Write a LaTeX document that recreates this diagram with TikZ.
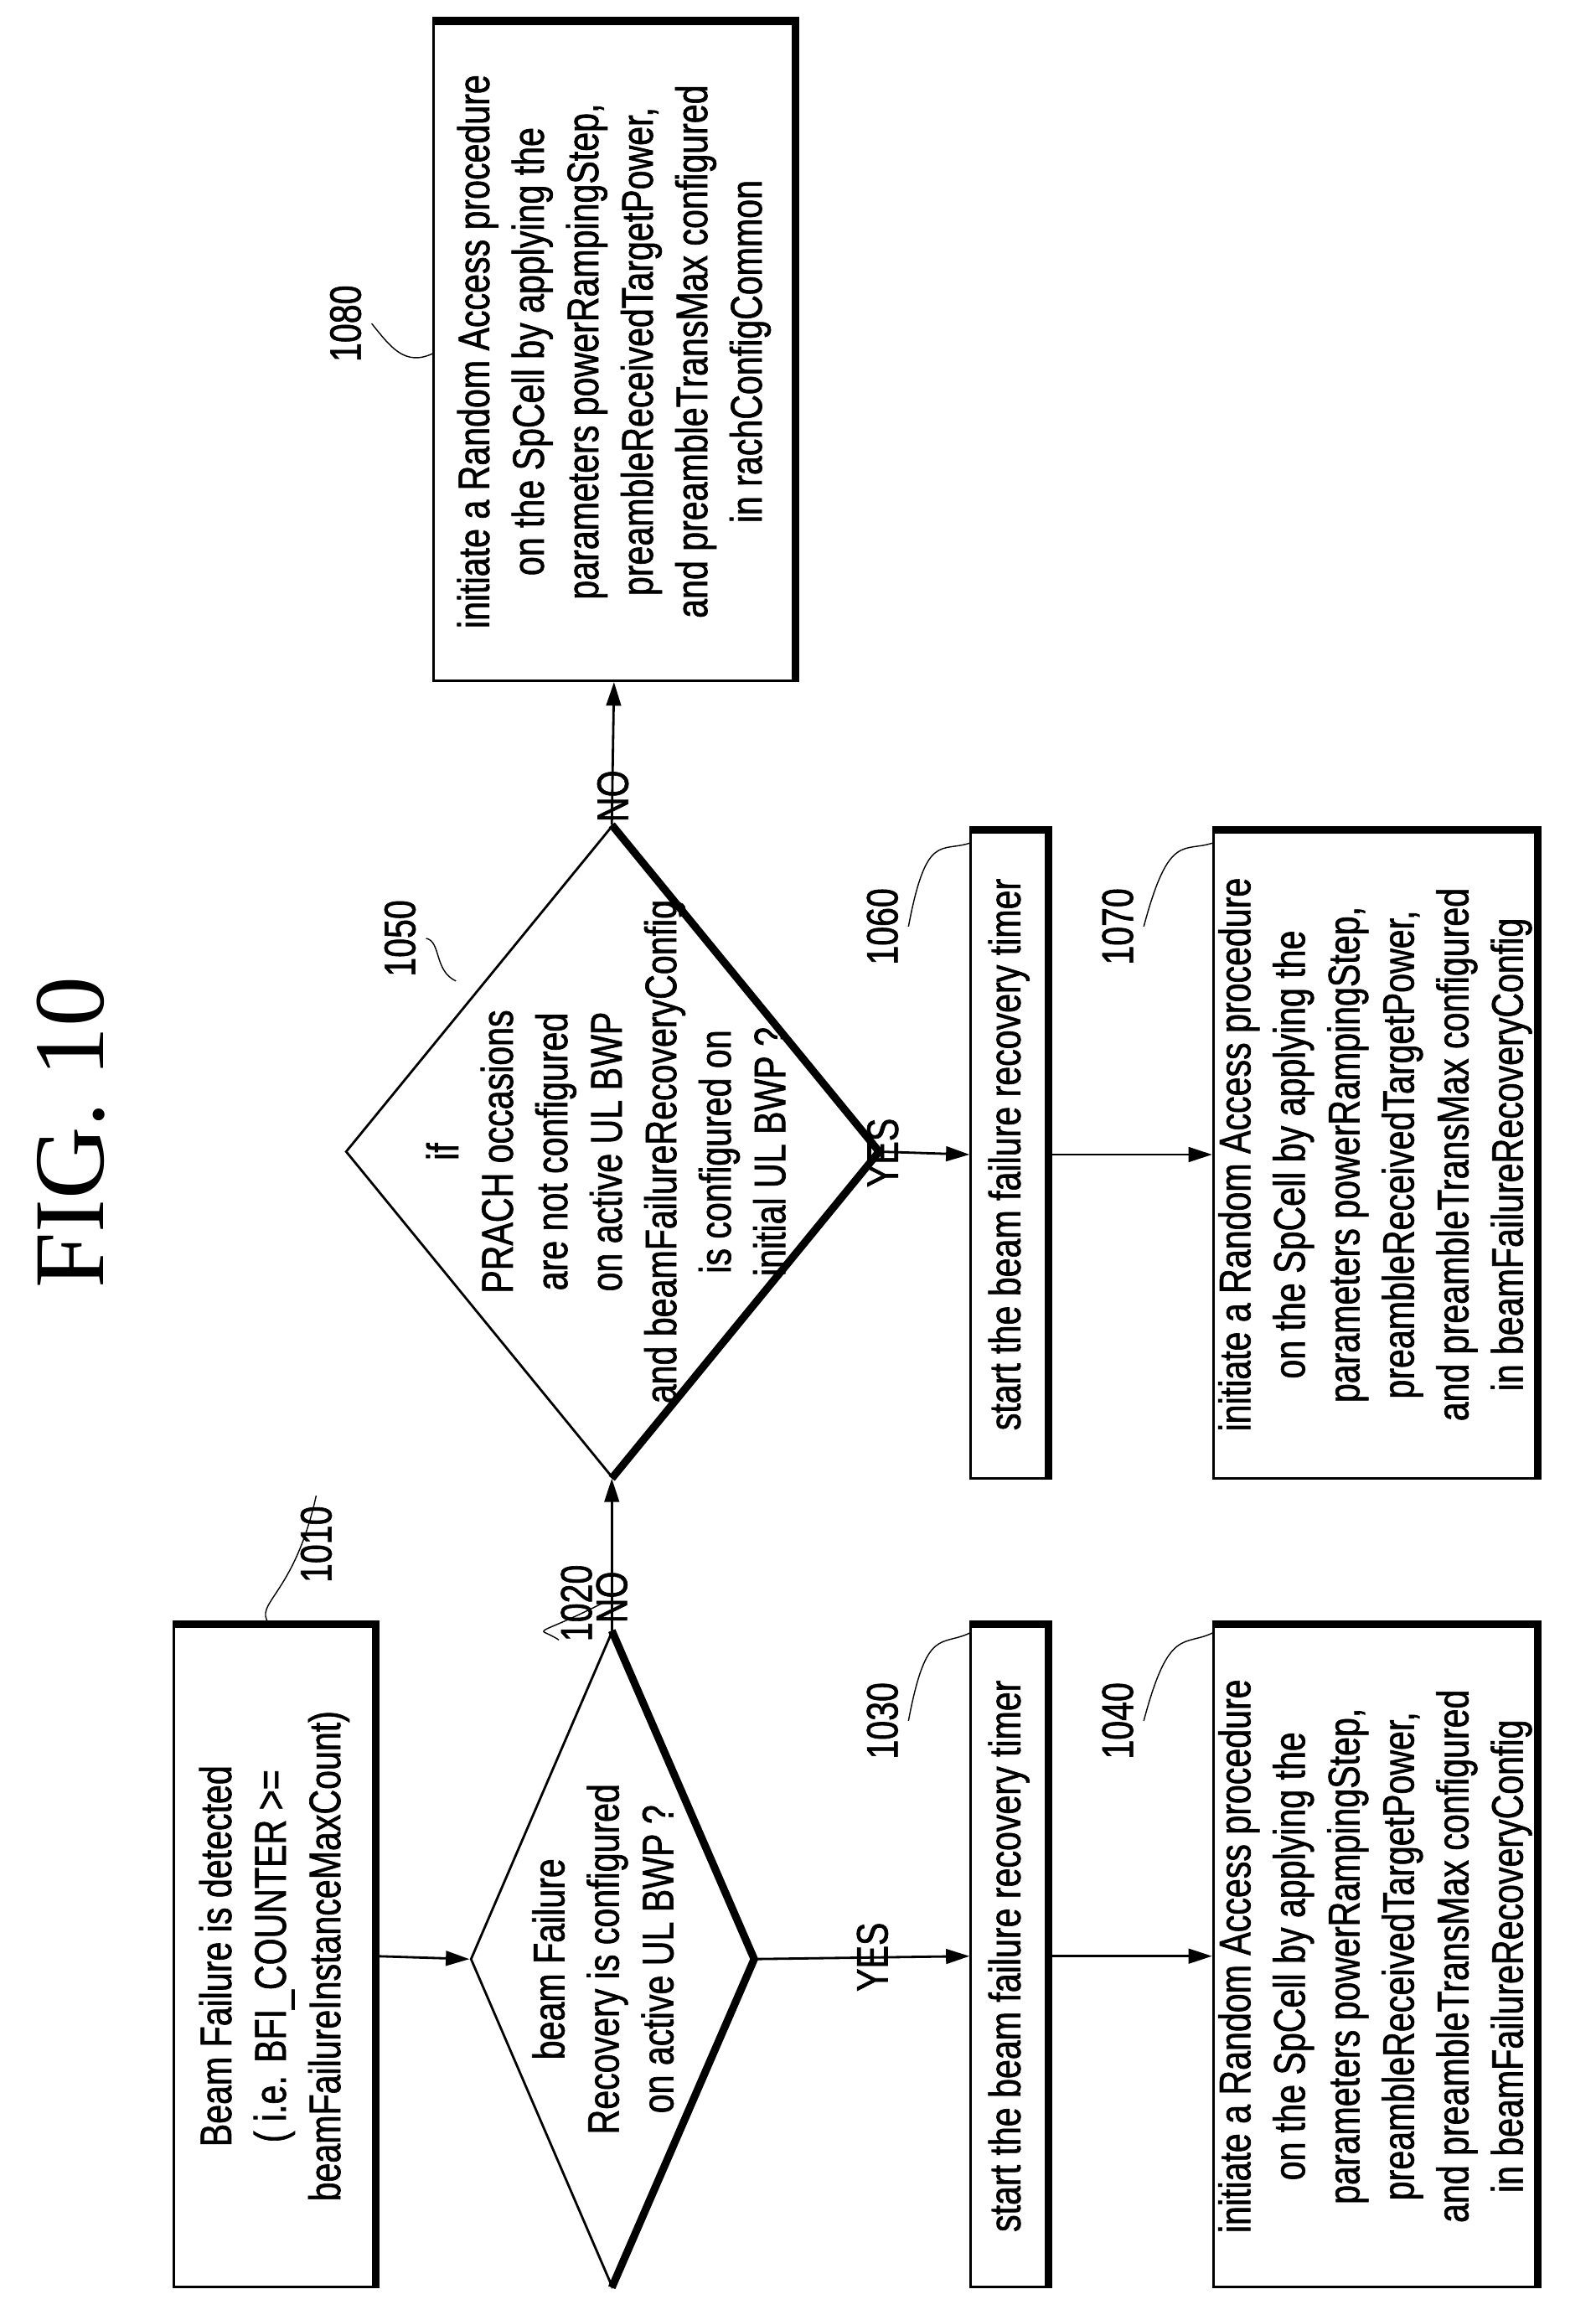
\documentclass[tikz,border=0pt]{standalone}
\usepackage{fontspec}
\setmainfont{Liberation Sans}[FakeStretch=0.78,FakeBold=1.2]
\newfontfamily\figfont{Liberation Serif}
\usetikzlibrary{shapes.geometric,arrows.meta}
\tikzset{
  box/.style={draw,thick,rectangle,rotate=90,align=center,inner sep=0pt,
    font=\fontsize{15}{18.5}\selectfont},
  dec/.style={draw,thick,diamond,rotate=90,inner sep=0pt},
  txt/.style={rotate=90,align=center,font=\fontsize{15}{18.5}\selectfont},
  num/.style={rotate=90,font=\fontsize{15}{18}\selectfont},
  shadow/.style={line width=2.6pt,shift={(1.2pt,1.2pt)}},
  flow/.style={thick,-{Triangle[length=8pt,width=5pt]}},
  lead/.style={thin}
}
\begin{document}
\begin{tikzpicture}[x=0.01755cm,y=-0.01755cm]
        \useasboundingbox (0,0) rectangle (1085,1574);

        \node[rotate=90,font=\figfont\fontsize{34}{34}\selectfont] (fig) at (48,770) {FIG.\ 10};

        % left column
        \node[box,minimum width=7.90cm,minimum height=2.40cm] (b1010) at (186.5,1330)
          {Beam Failure is detected\\( i.e. BFI\_COUNTER >=\\beamFailureInstanceMaxCount)};
        \node[dec,minimum width=7.81cm,minimum height=3.37cm] (d1020) at (416,1332) {};
        \node[txt] (t1020) at (410,1332) {beam Failure\\Recovery is configured\\on active UL BWP ?};
        \node[box,minimum width=7.90cm,minimum height=0.91cm] (b1030) at (686,1330)
          {start the beam failure recovery timer};
        \node[box,minimum width=7.90cm,minimum height=3.86cm] (b1040) at (935,1330)
          {initiate a Random Access procedure\\on the SpCell by applying the\\parameters powerRampingStep,\\preambleReceivedTargetPower,\\and preambleTransMax configured\\in beamFailureRecoveryConfig};

        % middle column
        \node[dec,minimum width=7.77cm,minimum height=6.35cm] (d1050) at (416,783) {};
        \node[txt] (t1050) at (412,783) {if\\PRACH occasions\\are not configured\\on active UL BWP\\and beamFailureRecoveryConfig\\is configured on\\initial UL BWP ?};
        \node[box,minimum width=7.72cm,minimum height=0.91cm] (b1060) at (686,785)
          {start the beam failure recovery timer};
        \node[box,minimum width=7.72cm,minimum height=3.86cm] (b1070) at (935,785)
          {initiate a Random Access procedure\\on the SpCell by applying the\\parameters powerRampingStep,\\preambleReceivedTargetPower,\\and preambleTransMax configured\\in beamFailureRecoveryConfig};

        % top box
        \node[box,minimum width=7.86cm,minimum height=4.30cm] (b1080) at (417.5,239)
          {initiate a Random Access procedure\\on the SpCell by applying the\\parameters powerRampingStep,\\preambleReceivedTargetPower,\\and preambleTransMax configured\\in rachConfigCommon};

        % shadows
        \foreach \b in {b1010,b1030,b1040,b1060,b1070,b1080}{
          \draw[shadow] (\b.north east) -- (\b.south east) -- (\b.south west);
        }
        \foreach \d in {d1020,d1050}{
          \draw[shadow] (\d.east) -- (\d.south) -- (\d.west);
        }

        % connectors
        \draw[flow] (b1010.south) -- (d1020.north);
        \draw[flow] (d1020.east) -- node[num,left=2pt] {NO} (d1050.west);
        \draw[flow] (d1050.east) -- node[num,left=2pt] {NO} (b1080.west);
        \draw[flow] (d1020.south) -- node[num,above=2pt,pos=0.7] {YES} (b1030.north);
        \draw[flow] (d1050.south) -- node[num,above=2pt,pos=0.4] {YES} (b1060.north);
        \draw[flow] (b1030.south) -- (b1040.north);
        \draw[flow] (b1060.south) -- (b1070.north);

        % reference numerals
        \node[num] (n1010) at (215,1050) {1010};
        \node[num] (n1020) at (392,1090) {1020};
        \node[num] (n1030) at (600,1170) {1030};
        \node[num] (n1040) at (760,1170) {1040};
        \node[num] (n1050) at (272,638) {1050};
        \node[num] (n1060) at (600,630) {1060};
        \node[num] (n1070) at (760,630) {1070};
        \node[num] (n1080) at (235,220) {1080};

        \draw[lead] (183,1104) .. controls (172,1090) and (200,1085) .. (n1010.east);
        \draw[lead] (380,1115) .. controls (365,1105) and (360,1115) .. (n1020.south);
        \draw[lead] (660,1110) .. controls (640,1120) and (630,1105) .. (n1030.south);
        \draw[lead] (825,1110) .. controls (805,1120) and (795,1105) .. (n1040.south);
        \draw[lead] (310,667) .. controls (295,660) and (300,640) .. (n1050.south);
        \draw[lead] (660,573) .. controls (640,580) and (630,565) .. (n1060.south);
        \draw[lead] (825,573) .. controls (805,580) and (795,565) .. (n1070.south);
        \draw[lead] (295,240) .. controls (275,250) and (265,235) .. (n1080.south);
\end{tikzpicture}
\end{document}
